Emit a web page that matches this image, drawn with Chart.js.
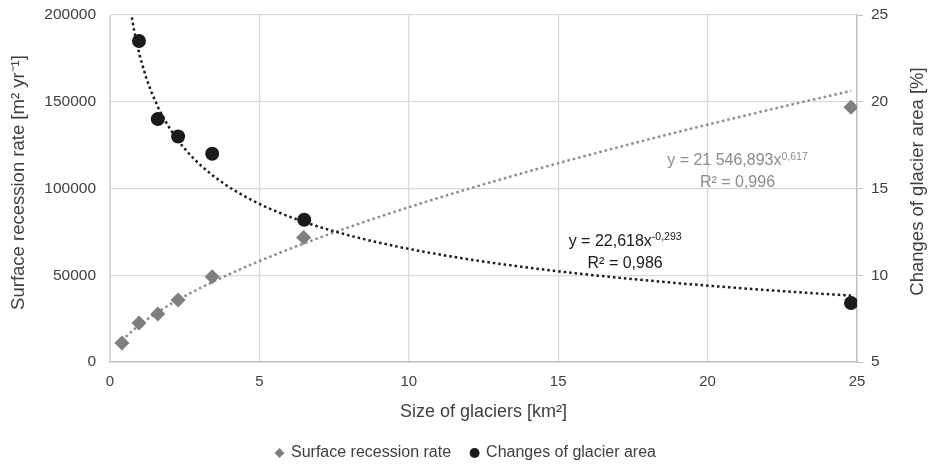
<!DOCTYPE html>
<html>
<head>
<meta charset="utf-8">
<script src="https://cdn.jsdelivr.net/npm/chart.js@4"></script>
<style>
    html, body { margin: 0; padding: 0; background: #fff; }
    #wrap { width: 932px; height: 465px; }
</style>
</head>
<body>
<div id="wrap"><canvas id="glaciers" width="932" height="465"></canvas></div>
<script>
// values
let glacierSize = [0.4, 0.97, 1.6, 2.28, 3.42, 6.48, 24.8];
let recessionRate = [11000, 22500, 27700, 35800, 49100, 71700, 146800];
let areaSize = [0.97, 1.6, 2.28, 3.42, 6.5, 24.8];
let areaChange = [23.5, 19.0, 18.0, 17.0, 13.2, 8.4];

// power trendlines as printed on the chart
let rateFit = { a: 21546.893, b: 0.617 };
let areaFit = { a: 22.618, b: -0.293 };

let fontName = "'Liberation Sans', Arial, sans-serif";
let textColor = '#404040';

function trend(fit, from, to) {
    let pts = [];
    let n = 120;
    for (i = 0; i <= n; i++) {
        let x = from + (to - from) * i / n;
        pts.push({ x: x, y: fit.a * Math.pow(x, fit.b) });
    }
    return pts;
}

function toPoints(xs, ys) {
    let out = [];
    for (i = 0; i < xs.length; i++) {
        out.push({ x: xs[i], y: ys[i] });
    }
    return out;
}

// equations + both y axis titles (drawn by hand so they read bottom to top)
let equationText = {
    id: 'equationText',
    afterDatasetsDraw: function (chart) {
        let ctx = chart.ctx;
        let xs = chart.scales.x;
        let y2 = chart.scales.y2;

        function eq(cx, cy, base, sup, color) {
            ctx.save();
            ctx.fillStyle = color;
            ctx.textBaseline = 'alphabetic';
            ctx.font = '16px ' + fontName;
            let w1 = ctx.measureText(base).width;
            ctx.font = '10.5px ' + fontName;
            let w2 = ctx.measureText(sup).width;
            let left = cx - (w1 + w2) / 2;
            ctx.font = '16px ' + fontName;
            ctx.textAlign = 'left';
            ctx.fillText(base, left, cy);
            ctx.font = '10.5px ' + fontName;
            ctx.fillText(sup, left + w1, cy - 5.5);
            ctx.restore();
        }
        function line(cx, cy, txt, color) {
            ctx.save();
            ctx.fillStyle = color;
            ctx.font = '16px ' + fontName;
            ctx.textAlign = 'center';
            ctx.textBaseline = 'alphabetic';
            ctx.fillText(txt, cx, cy);
            ctx.restore();
        }
        function vtitle(x, y, txt) {
            ctx.save();
            ctx.translate(x, y);
            ctx.rotate(-Math.PI / 2);
            ctx.fillStyle = textColor;
            ctx.font = '18.5px ' + fontName;
            ctx.textAlign = 'center';
            ctx.textBaseline = 'middle';
            ctx.fillText(txt, 0, 0);
            ctx.restore();
        }

        let gx = xs.getPixelForValue(21.0);
        eq(gx, y2.getPixelForValue(16.33), 'y = 21 546,893x', '0,617', '#8c8c8c');
        line(gx, y2.getPixelForValue(15.06), 'R² = 0,996', '#8c8c8c');

        let bx = xs.getPixelForValue(17.24);
        eq(bx, y2.getPixelForValue(11.71), 'y = 22,618x', '-0,293', '#1a1a1a');
        line(bx, y2.getPixelForValue(10.43), 'R² = 0,986', '#1a1a1a');

        let mid = (y2.top + y2.bottom) / 2;
        vtitle(19, mid - 6, 'Surface recession rate [m² yr⁻¹]');
        vtitle(918, mid - 7, 'Changes of glacier area [%]');
    }
};

Chart.defaults.font.family = fontName;
Chart.defaults.color = textColor;

let ctx = document.getElementById('glaciers').getContext('2d');
let glacierChart = new Chart(ctx, {
    type: 'scatter',
    data: {
        datasets: [
            {
                label: 'Surface recession rate',
                data: toPoints(glacierSize, recessionRate),
                yAxisID: 'y',
                pointStyle: 'rectRot',
                pointRadius: 7.5,
                backgroundColor: '#7f7f7f',
                borderColor: '#7f7f7f',
                borderWidth: 0,
                order: 1
            },
            {
                label: 'Changes of glacier area',
                data: toPoints(areaSize, areaChange),
                yAxisID: 'y2',
                pointStyle: 'circle',
                pointRadius: 7,
                backgroundColor: '#1a1a1a',
                borderColor: '#1a1a1a',
                borderWidth: 0,
                order: 0
            },
            {
                label: 'rate trend',
                type: 'line',
                data: trend(rateFit, 0.4, 24.8),
                yAxisID: 'y',
                borderColor: '#8c8c8c',
                borderWidth: 2.5,
                borderDash: [2.5, 3],
                pointRadius: 0,
                fill: false,
                order: 3
            },
            {
                label: 'area trend',
                type: 'line',
                data: trend(areaFit, 0.4, 24.8),
                yAxisID: 'y2',
                borderColor: '#1a1a1a',
                borderWidth: 2.5,
                borderDash: [2.5, 3],
                pointRadius: 0,
                fill: false,
                order: 2
            }
        ]
    },
    options: {
        responsive: false,
        animation: false,
        layout: { padding: { top: 15, right: 0, left: 0, bottom: -6 } },
        plugins: {
            tooltip: { enabled: false },
            legend: {
                position: 'bottom',
                labels: {
                    usePointStyle: true,
                    boxWidth: 7,
                    boxHeight: 7,
                    padding: 20,
                    color: textColor,
                    font: { size: 16 },
                    filter: function (item) {
                        return item.datasetIndex < 2;
                    },
                    sort: function (a, b) {
                        return a.datasetIndex - b.datasetIndex;
                    }
                }
            }
        },
        scales: {
            x: {
                type: 'linear',
                min: 0,
                max: 25,
                ticks: { stepSize: 5, color: textColor, font: { size: 15 }, padding: 11 },
                grid: { color: '#d9d9d9', lineWidth: 1.3, tickLength: 0 },
                border: { color: '#bfbfbf', width: 1.5 },
                title: {
                    display: true,
                    text: 'Size of glaciers [km²]',
                    color: textColor,
                    font: { size: 18 },
                    padding: { top: 8, bottom: 2 }
                },
                afterFit: function (scale) { scale.height = 63; }
            },
            y: {
                position: 'left',
                min: 0,
                max: 200000,
                ticks: {
                    stepSize: 50000, color: textColor, font: { size: 15.5 }, padding: 0,
                    callback: function (v) { return String(v); }
                },
                grid: { color: '#d9d9d9', lineWidth: 1.3, tickLength: 14, tickColor: 'rgba(0,0,0,0)' },
                border: { color: '#d9d9d9' },
                afterFit: function (scale) { scale.width = 110; }
            },
            y2: {
                position: 'right',
                min: 5,
                max: 25,
                ticks: { stepSize: 5, color: textColor, font: { size: 15.5, lineHeight: 0.9 }, padding: 8 },
                grid: { drawOnChartArea: false, color: '#bfbfbf', tickLength: 6 },
                border: { color: '#bfbfbf', width: 1.5 },
                afterFit: function (scale) { scale.width = 75; }
            }
        }
    },
    plugins: [equationText]
});
</script>
</body>
</html>
